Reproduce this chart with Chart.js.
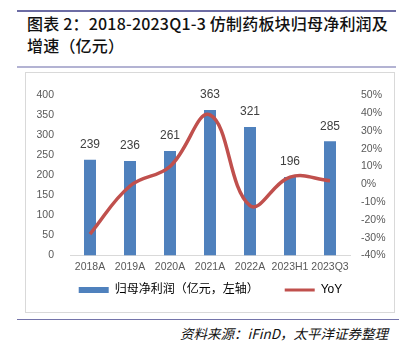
<!DOCTYPE html>
<html>
<head>
<meta charset="utf-8">
<script src="https://cdn.jsdelivr.net/npm/chart.js@4/dist/chart.umd.min.js"></script>
<style>
  html, body { margin: 0; padding: 0; background: #fff; }
  body { width: 399px; height: 346px; position: relative; overflow: hidden; }
  .rule { position: absolute; }
  #title { position: absolute; left: 27px; top: 12px; font-family: "Noto Sans CJK SC", sans-serif; font-size: 16px; line-height: 22px; color: #111; font-weight: 500; letter-spacing: 0.2px; white-space: nowrap; }
  #box { position: absolute; left: 25px; top: 72px; width: 370px; height: 241px; border: 1px solid #d9d9d9; box-sizing: border-box; }
  #wrap { position: absolute; left: 25px; top: 73px; width: 371px; height: 241px; }
  #source { position: absolute; right: 11px; top: 323px; font-family: "Noto Sans CJK SC", sans-serif; font-size: 13.5px; font-style: italic; color: #111; white-space: nowrap; }
</style>
</head>
<body>
<div class="rule" style="left:17px;top:10px;width:379px;height:2px;background:#6c6ca4;"></div>
<div id="title">图表 2：2018-2023Q1-3 仿制药板块归母净利润及<br>增速（亿元）</div>
<div class="rule" style="left:17px;top:66px;width:379px;height:2px;background:#b3b3d3;"></div>
<div id="box"></div>
<div id="wrap"><canvas id="c" width="371" height="241"></canvas></div>
<div class="rule" style="left:17px;top:319px;width:382px;height:1px;background:#7474aa;"></div>
<div id="source">资料来源：iFinD，太平洋证券整理</div>
<script>
const categories = ["2018A", "2019A", "2020A", "2021A", "2022A", "2023H1", "2023Q3"];
const profit = [239, 236, 261, 363, 321, 196, 285];
const yoy = [-28, -1, 10, 39, -12, 4, 2];
const leftTicks = [0, 400, 50];
const rightTicks = [-40, 50, 10];
const seriesNames = ["归母净利润（亿元，左轴）", "YoY"];

const barColor = "#4f81bd";
const lineColor = "#c0504d";
const tickFont = { family: "Liberation Sans, Arial, sans-serif", size: 10.5 };

const labelPlugin = {
  id: "barLabels",
  afterDatasetsDraw(chart) {
    const ctx = chart.ctx;
    const meta = chart.getDatasetMeta(0);
    ctx.save();
    ctx.font = "12px 'Liberation Sans', Arial, sans-serif";
    ctx.fillStyle = "#404040";
    ctx.textAlign = "center";
    ctx.textBaseline = "middle";
    meta.data.forEach((bar, i) => {
      ctx.fillText(String(profit[i]), bar.x, bar.y - 15);
    });
    ctx.restore();
  }
};

new Chart(document.getElementById("c"), {
  data: {
    labels: categories,
    datasets: [
      {
        type: "bar",
        label: seriesNames[0],
        data: profit,
        backgroundColor: barColor,
        yAxisID: "y",
        order: 1,
        barPercentage: 0.6,
        categoryPercentage: 0.5
      },
      {
        type: "line",
        label: seriesNames[1],
        data: yoy,
        borderColor: lineColor,
        backgroundColor: lineColor,
        borderWidth: 3.5,
        pointRadius: 0,
        tension: 0.4,
        yAxisID: "y1",
        order: 0
      }
    ]
  },
  options: {
    responsive: false,
    animation: false,
    layout: { padding: { top: 12, left: 0, right: 0, bottom: 8 } },
    plugins: {
      tooltip: { enabled: false },
      legend: {
        position: "bottom",
        labels: {
          font: { family: "Liberation Sans, 'Noto Sans CJK SC', sans-serif", size: 12 },
          color: "#595959",
          usePointStyle: true,
          pointStyleWidth: 30,
          boxHeight: 6,
          padding: 6,
          generateLabels(chart) {
            return [
              { text: seriesNames[0] + "\u00a0\u00a0\u00a0\u00a0\u00a0\u00a0", fillStyle: barColor, strokeStyle: barColor, lineWidth: 0, pointStyle: "rect", datasetIndex: 0, hidden: false },
              { text: seriesNames[1], fillStyle: lineColor, strokeStyle: lineColor, lineWidth: 3, pointStyle: "line", datasetIndex: 1, hidden: false }
            ];
          }
        }
      }
    },
    scales: {
      x: {
        grid: { display: false, drawTicks: false },
        border: { display: true, color: "#d9d9d9", width: 1 },
        ticks: { color: "#595959", font: tickFont, padding: 5, maxRotation: 0, autoSkip: false }
      },
      y: {
        position: "left",
        min: leftTicks[0], max: leftTicks[1],
        grid: { display: false, drawTicks: false },
        border: { display: false },
        ticks: { stepSize: leftTicks[2], color: "#595959", font: tickFont, padding: 16 },
        afterFit(scale) { scale.width = 45; }
      },
      y1: {
        position: "right",
        min: rightTicks[0], max: rightTicks[1],
        grid: { display: false, drawTicks: false },
        border: { display: false },
        ticks: { stepSize: rightTicks[2], color: "#595959", font: tickFont, padding: 11, callback: v => v + "%" },
        afterFit(scale) { scale.width = 46; }
      }
    }
  },
  plugins: [labelPlugin]
});
</script>
</body>
</html>
